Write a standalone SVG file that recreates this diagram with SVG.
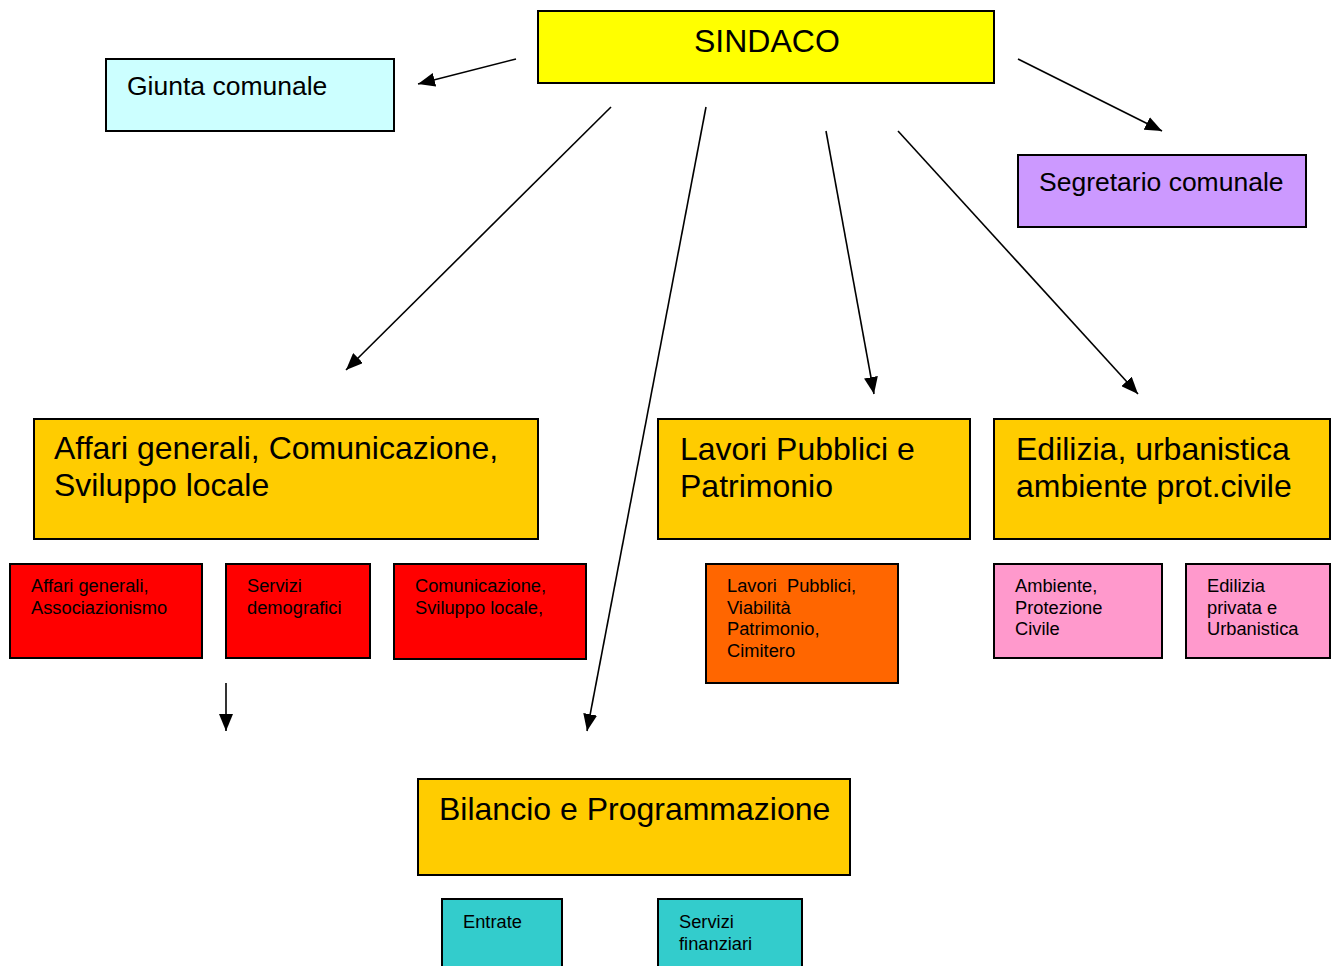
<svg xmlns="http://www.w3.org/2000/svg" width="1336" height="966" viewBox="0 0 1336 966">
<style>
rect{stroke:#000;stroke-width:2}
text{font-family:"Liberation Sans",Arial,sans-serif;fill:#000}
.big{font-size:32px}
.mid{font-size:26.5px}
.sm{font-size:18.3px}
.conn line{stroke:#000;stroke-width:1.6}
</style>
<defs>
<marker id="ah" markerUnits="userSpaceOnUse" markerWidth="18" markerHeight="14" refX="17" refY="7" orient="auto">
<path d="M0,0 L17,7 L0,14 Z" fill="#000"/>
</marker>
</defs>
<rect width="1336" height="966" fill="#fff" style="stroke:none"/>
<g class="conn">
<line x1="516" y1="59" x2="418" y2="84" marker-end="url(#ah)"/>
<line x1="1018" y1="59" x2="1162" y2="131" marker-end="url(#ah)"/>
<line x1="611" y1="107" x2="346" y2="370" marker-end="url(#ah)"/>
<line x1="706" y1="107" x2="587" y2="731" marker-end="url(#ah)"/>
<line x1="826" y1="131" x2="874" y2="394" marker-end="url(#ah)"/>
<line x1="898" y1="131" x2="1138" y2="394" marker-end="url(#ah)"/>
<line x1="226" y1="683" x2="226" y2="731" marker-end="url(#ah)"/>
</g>
<g id="sindaco"><rect x="538" y="11" width="456" height="72" fill="#FFFF00"/><text class="big" x="694" y="52">SINDACO</text></g>
<g id="giunta"><rect x="106" y="59" width="288" height="72" fill="#CCFFFF"/><text class="mid" x="127" y="95">Giunta comunale</text></g>
<g id="segretario"><rect x="1018" y="155" width="288" height="72" fill="#CC99FF"/><text class="mid" x="1039" y="191">Segretario comunale</text></g>
<g id="affari"><rect x="34" y="419" width="504" height="120" fill="#FFCC00"/><text class="big" x="54" y="459">Affari generali, Comunicazione,</text><text class="big" x="54" y="496">Sviluppo locale</text></g>
<g id="lavori"><rect x="658" y="419" width="312" height="120" fill="#FFCC00"/><text class="big" x="680" y="460">Lavori Pubblici e</text><text class="big" x="680" y="497">Patrimonio</text></g>
<g id="edilizia"><rect x="994" y="419" width="336" height="120" fill="#FFCC00"/><text class="big" x="1016" y="460">Edilizia, urbanistica</text><text class="big" x="1016" y="497">ambiente prot.civile</text></g>
<g id="affari-gen"><rect x="10" y="564" width="192" height="94" fill="#FF0000"/><text class="sm" x="31" y="592">Affari generali,</text><text class="sm" x="31" y="614">Associazionismo</text></g>
<g id="servizi-demo"><rect x="226" y="564" width="144" height="94" fill="#FF0000"/><text class="sm" x="247" y="592">Servizi</text><text class="sm" x="247" y="614">demografici</text></g>
<g id="comunicazione"><rect x="394" y="564" width="192" height="95" fill="#FF0000"/><text class="sm" x="415" y="592">Comunicazione,</text><text class="sm" x="415" y="614">Sviluppo locale,</text></g>
<g id="lavori-sub"><rect x="706" y="564" width="192" height="119" fill="#FF6600"/><text class="sm" x="727" y="592" xml:space="preserve">Lavori  Pubblici,</text><text class="sm" x="727" y="614">Viabilità</text><text class="sm" x="727" y="635">Patrimonio,</text><text class="sm" x="727" y="657">Cimitero</text></g>
<g id="ambiente"><rect x="994" y="564" width="168" height="94" fill="#FF99CC"/><text class="sm" x="1015" y="592">Ambiente,</text><text class="sm" x="1015" y="614">Protezione</text><text class="sm" x="1015" y="635">Civile</text></g>
<g id="edilizia-priv"><rect x="1186" y="564" width="144" height="94" fill="#FF99CC"/><text class="sm" x="1207" y="592">Edilizia</text><text class="sm" x="1207" y="614">privata e</text><text class="sm" x="1207" y="635">Urbanistica</text></g>
<g id="bilancio"><rect x="418" y="779" width="432" height="96" fill="#FFCC00"/><text class="big" x="439" y="820">Bilancio e Programmazione</text></g>
<g id="entrate"><rect x="442" y="899" width="120" height="80" fill="#33CCCC"/><text class="sm" x="463" y="928">Entrate</text></g>
<g id="servizi-fin"><rect x="658" y="899" width="144" height="80" fill="#33CCCC"/><text class="sm" x="679" y="928">Servizi</text><text class="sm" x="679" y="950">finanziari</text></g>
</svg>
